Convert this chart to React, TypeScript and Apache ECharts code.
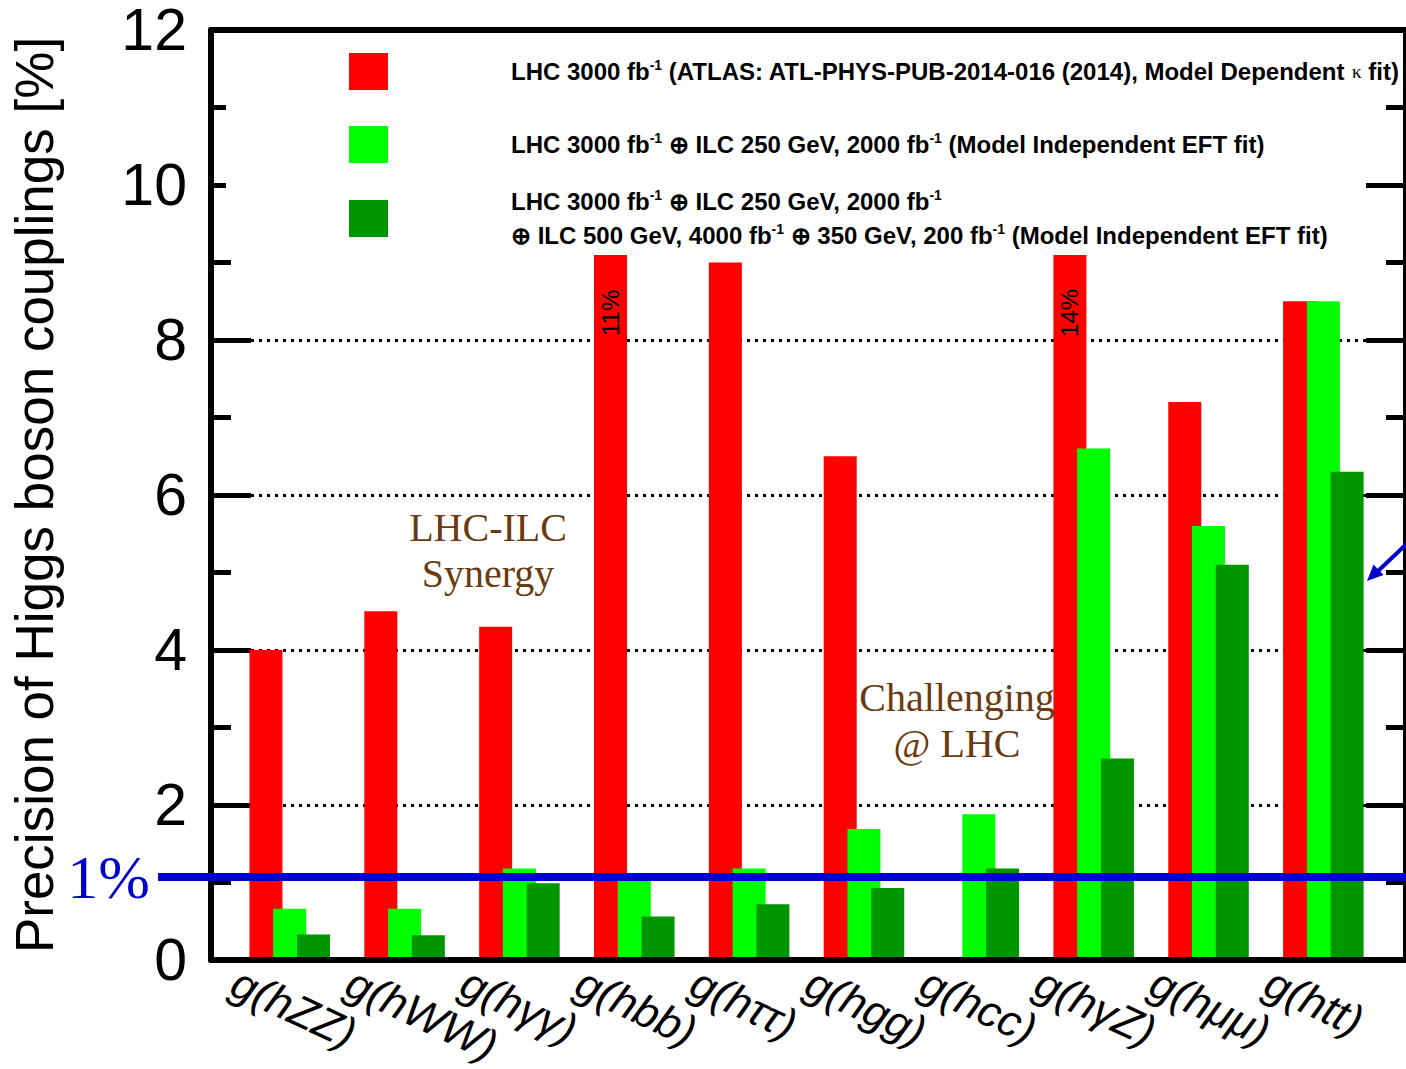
import React, { useEffect, useRef } from "react";
import * as echarts from "echarts";

// ---------- data ----------
const categories = [
  "g(hZZ)",
  "g(hWW)",
  "g(hγγ)",
  "g(hbb)",
  "g(hττ)",
  "g(hgg)",
  "g(hcc)",
  "g(hγZ)",
  "g(hμμ)",
  "g(htt)",
];
const lhcValues: (number | null)[] = [4.0, 4.5, 4.3, 11, 9.0, 6.5, null, 14, 7.2, 8.5];
const ilc250Values: (number | null)[] = [0.66, 0.66, 1.18, 1.05, 1.18, 1.69, 1.88, 6.6, 5.6, 8.5];
const ilcFullValues: (number | null)[] = [0.33, 0.32, 0.99, 0.56, 0.72, 0.93, 1.18, 2.6, 5.1, 6.3];

const seriesNames = [
  "LHC 3000 fb-1 (ATLAS: ATL-PHYS-PUB-2014-016 (2014), Model Dependent κ fit)",
  "LHC 3000 fb-1 ⊕ ILC 250 GeV, 2000 fb-1 (Model Independent EFT fit)",
  "LHC 3000 fb-1 ⊕ ILC 250 GeV, 2000 fb-1 ⊕ ILC 500 GeV, 4000 fb-1 ⊕ 350 GeV, 200 fb-1 (Model Independent EFT fit)",
];
const legendRich = [
  "{sp| }{a|LHC 3000 fb}{as|-1}{a| (ATLAS: ATL-PHYS-PUB-2014-016 (2014), Model Dependent }{ak|κ}{a| fit)}",
  "{sp| }{a|LHC 3000 fb}{as|-1}{a| ⊕ ILC 250 GeV, 2000 fb}{as|-1}{a| (Model Independent EFT fit)}",
  "{sp| }{b|LHC 3000 fb}{bs|-1}{b| ⊕ ILC 250 GeV, 2000 fb}{bs|-1}\n{sp| }{b|⊕ ILC 500 GeV, 4000 fb}{bs|-1}{b| ⊕ 350 GeV, 200 fb}{bs|-1}{b| (Model Independent EFT fit)}",
];

const yMin = 0;
const yMax = 12;
const yStep = 2;
const onePercentLevel = 1.07;
const offScaleLabels = [
  { category: "g(hbb)", text: "11%" },
  { category: "g(hγZ)", text: "14%" },
];
const offScaleLabelLevel = 8.35;

// ---------- component ----------
export default function App() {
  const ref = useRef<HTMLDivElement>(null);

  useEffect(() => {
    const chart = echarts.init(ref.current!, null, { renderer: "svg" });

    const SANS = "'Liberation Sans', Arial, sans-serif";
    const SERIF = "'Liberation Serif', 'Times New Roman', serif";
    const BAR_W = 33;
    const BAR_GAP = -0.28;
    const barStep = BAR_W * (1 + BAR_GAP);
    const catLeft = 232.3;
    const catWidth = 1148.5;
    const labelShift = 55.75;
    const legendTops = [53, 126, 188];

    const frameAxisX = (position: string) => ({
      gridIndex: 0,
      type: "value",
      position,
      min: 0,
      max: 1,
      z: 5,
      axisLine: { show: true, onZero: false, lineStyle: { color: "#000", width: 6 } },
      axisTick: { show: false },
      axisLabel: { show: false },
      splitLine: { show: false },
    });

    const frameAxisY = (position: string, main: boolean) => ({
      gridIndex: 0,
      type: "value",
      position,
      min: yMin,
      max: yMax,
      interval: yStep,
      axisLine: { show: true, onZero: false, lineStyle: { color: "#000", width: 6 } },
      axisTick: { show: true, inside: true, length: 40, lineStyle: { color: "#000", width: 5 } },
      minorTick: { show: true, splitNumber: 2, length: 20, lineStyle: { color: "#000", width: 5 } },
      axisLabel: main
        ? { show: true, fontSize: 59, lineHeight: 54, fontFamily: SANS, color: "#000", margin: 24 }
        : { show: false },
      splitLine: main
        ? { show: true, lineStyle: { color: "#000", width: 3, type: [3, 5] } }
        : { show: false },
      name: main ? "Precision of Higgs boson couplings [%]" : "",
      nameLocation: "middle",
      nameGap: 150,
      nameTextStyle: { fontSize: 53, fontFamily: SANS, color: "#000" },
    });

    const legendRichStyles = {
      sp: { width: 118, fontSize: 10 },
      a: { fontSize: 24, fontWeight: "bold", fontFamily: SANS, color: "#000" },
      as: { fontSize: 14, fontWeight: "bold", fontFamily: SANS, color: "#000", padding: [0, 0, 13, 0] },
      ak: { fontSize: 19, fontFamily: SERIF, color: "#000" },
      b: { fontSize: 24, fontWeight: "bold", fontFamily: SANS, color: "#000", lineHeight: 34 },
      bs: { fontSize: 14, fontWeight: "bold", fontFamily: SANS, color: "#000", padding: [0, 0, 13, 0] },
    };

    const legends = seriesNames.map((name, i) => ({
      orient: "vertical",
      left: 349,
      top: legendTops[i],
      padding: 0,
      itemWidth: 39,
      itemHeight: 37,
      icon: "rect",
      selectedMode: false,
      data: [name],
      formatter: (n: string) => legendRich[seriesNames.indexOf(n)],
      textStyle: { color: "#000", rich: legendRichStyles },
    }));

    const barSeries = (name: string, data: (number | null)[], color: string) => ({
      type: "bar",
      name,
      xAxisIndex: 2,
      yAxisIndex: 2,
      data,
      barWidth: BAR_W,
      barGap: `${BAR_GAP * 100}%`,
      itemStyle: { color },
    });

    const option: any = {
      animation: false,
      backgroundColor: "#ffffff",
      grid: [
        { left: 210, right: -6, top: 30, bottom: 109 },
        { left: catLeft, width: catWidth, top: 30, bottom: 109 },
        { left: catLeft - labelShift, width: catWidth, top: 30, bottom: 109 },
      ],
      xAxis: [
        frameAxisX("bottom"),
        frameAxisX("top"),
        {
          gridIndex: 1,
          type: "category",
          data: categories,
          axisLine: { show: false },
          axisTick: { show: false },
          axisLabel: { show: false },
          splitLine: { show: false },
        },
        {
          gridIndex: 2,
          type: "category",
          data: categories,
          axisLine: { show: false },
          axisTick: { show: false },
          splitLine: { show: false },
          axisLabel: {
            show: true,
            interval: 0,
            rotate: -25,
            align: "left",
            verticalAlign: "middle",
            margin: 25,
            fontSize: 44,
            fontStyle: "italic",
            fontFamily: SANS,
            color: "#000",
          },
        },
      ],
      yAxis: [
        frameAxisY("left", true),
        frameAxisY("right", false),
        { gridIndex: 1, type: "value", min: yMin, max: yMax, show: false },
        { gridIndex: 2, type: "value", min: yMin, max: yMax, show: false },
      ],
      legend: legends,
      series: [
        barSeries(seriesNames[0], lhcValues, "#ff0000"),
        barSeries(seriesNames[1], ilc250Values, "#00ff00"),
        barSeries(seriesNames[2], ilcFullValues, "#009600"),
      ],
    };

    chart.setOption(option);

    const yOne = chart.convertToPixel({ yAxisIndex: 0 }, onePercentLevel) as number;
    const offScaleEls = offScaleLabels.map((o) => {
      const p = chart.convertToPixel({ gridIndex: 1 }, [
        categories.indexOf(o.category),
        offScaleLabelLevel,
      ]) as number[];
      return {
        type: "text",
        x: p[0] - barStep,
        y: p[1],
        rotation: Math.PI / 2,
        z: 6,
        style: {
          text: o.text,
          font: `24px ${SANS}`,
          fill: "#000",
          align: "center",
          verticalAlign: "middle",
        },
      };
    });

    chart.setOption({
      graphic: {
        elements: [
          {
            type: "rect",
            z: 3,
            shape: { x: 226, y: 30, width: 1140, height: 225 },
            style: { fill: "#ffffff" },
          },
          {
            type: "line",
            z: 6,
            shape: { x1: 158, y1: yOne, x2: 1412, y2: yOne },
            style: { stroke: "#0000cc", lineWidth: 8 },
          },
          {
            type: "text",
            z: 6,
            x: 150,
            y: yOne,
            style: {
              text: "1%",
              font: `62px ${SERIF}`,
              fill: "#0000cc",
              align: "right",
              verticalAlign: "middle",
            },
          },
          {
            type: "text",
            z: 6,
            x: 488,
            y: 550,
            style: {
              text: "LHC-ILC\nSynergy",
              font: `40px ${SERIF}`,
              fill: "#6b3a10",
              align: "center",
              verticalAlign: "middle",
              lineHeight: 46,
            },
          },
          {
            type: "text",
            z: 6,
            x: 957,
            y: 720,
            style: {
              text: "Challenging\n@ LHC",
              font: `40px ${SERIF}`,
              fill: "#6b3a10",
              align: "center",
              verticalAlign: "middle",
              lineHeight: 46,
            },
          },
          {
            type: "line",
            z: 6,
            shape: { x1: 1414, y1: 537, x2: 1377, y2: 572 },
            style: { stroke: "#0000cc", lineWidth: 4 },
          },
          {
            type: "polygon",
            z: 6,
            shape: {
              points: [
                [1367, 581],
                [1383.5, 575],
                [1373.5, 564.5],
              ],
            },
            style: { fill: "#0000cc" },
          },
          ...offScaleEls,
        ],
      },
    });

    return () => {
      chart.dispose();
    };
  }, []);

  return (
    <div
      ref={ref}
      style={{ position: "fixed", left: 0, top: 0, width: 1406, height: 1069, background: "#fff" }}
    />
  );
}
